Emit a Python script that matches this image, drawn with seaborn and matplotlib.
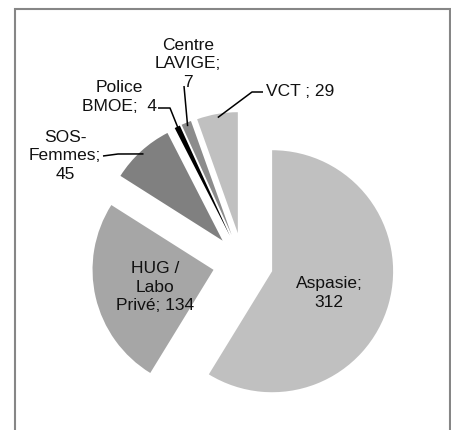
import numpy as np
import seaborn as sns
import matplotlib.pyplot as plt
from matplotlib.patches import Rectangle

# Données du graphique
categories = ["Aspasie", "HUG / Labo Privé", "SOS-Femmes", "Police BMOE", "Centre LAVIGE", "VCT"]
values = [312, 134, 45, 4, 7, 29]
labels = ["Aspasie;\n312", "HUG /\nLabo\nPrivé; 134", "SOS-\nFemmes;\n45",
          "Police\nBMOE;  4", "Centre\nLAVIGE;\n7", "VCT ; 29"]
colors = ["#c0c0c0", "#a6a6a6", "#808080", "#000000", "#8c8c8c", "#c0c0c0"]

sns.set_theme(style="white")
plt.rcParams["font.family"] = ["Liberation Sans", "DejaVu Sans"]

W, H = 451, 431
R = 121  # rayon du camembert en pixels
fig = plt.figure(figsize=(W / 100, H / 100), dpi=100)
ax = fig.add_axes([0, 0, 1, 1])


def sy(y):
    """Convertit une coordonnée écran (y vers le bas) en coordonnée de données."""
    return H - y


# Cadre du graphique (pas de bord inférieur visible)
ax.add_patch(Rectangle((14.5, -5), 435.5, sy(10) + 5, fill=False,
                       edgecolor="#868686", linewidth=1.5, zorder=0))

# explode est en unités de données (rayon = R)
wedges, _ = ax.pie(values, colors=colors, startangle=90, counterclock=False,
                   explode=[0.25 * R] * len(values), radius=R, center=(243, sy(264)),
                   wedgeprops=dict(linewidth=0), frame=True)
ax.set_xlim(0, W)
ax.set_ylim(0, H)
ax.set_aspect("equal")
ax.axis("off")

fs = 12.5
ls = 1.3
# Étiquettes intérieures
ax.text(329, sy(293), labels[0], ha="center", va="center", fontsize=fs,
        linespacing=ls, color="#111111")
ax.text(155, sy(287), labels[1], ha="center", va="center", fontsize=fs,
        linespacing=ls, color="#111111")

# Étiquettes extérieures avec lignes de rappel
outside = {
    2: dict(pos=(65, sy(156)), ha="center", path=[(103, 157), (118, 155)]),
    3: dict(pos=(119, sy(97)), ha="center", path=[(158, 109), (170, 109)]),
    4: dict(pos=(188, sy(64)), ha="center", path=[(184, 87)]),
    5: dict(pos=(266, sy(91)), ha="left", path=[(263, 93), (252, 93)]),
}
for i, opt in outside.items():
    ax.text(*opt["pos"], labels[i], ha=opt["ha"], va="center", fontsize=fs,
            linespacing=ls, color="#111111")
    w = wedges[i]
    mid = np.deg2rad((w.theta1 + w.theta2) / 2)
    cx, cy = w.center
    end = (cx + 0.97 * w.r * np.cos(mid), cy + 0.97 * w.r * np.sin(mid))
    pts = [(x, sy(y)) for x, y in opt["path"]] + [end]
    xs, ys = zip(*pts)
    ax.plot(xs, ys, color="black", linewidth=1.1, solid_capstyle="butt")

fig.savefig("out.png", dpi=100, facecolor="white")
